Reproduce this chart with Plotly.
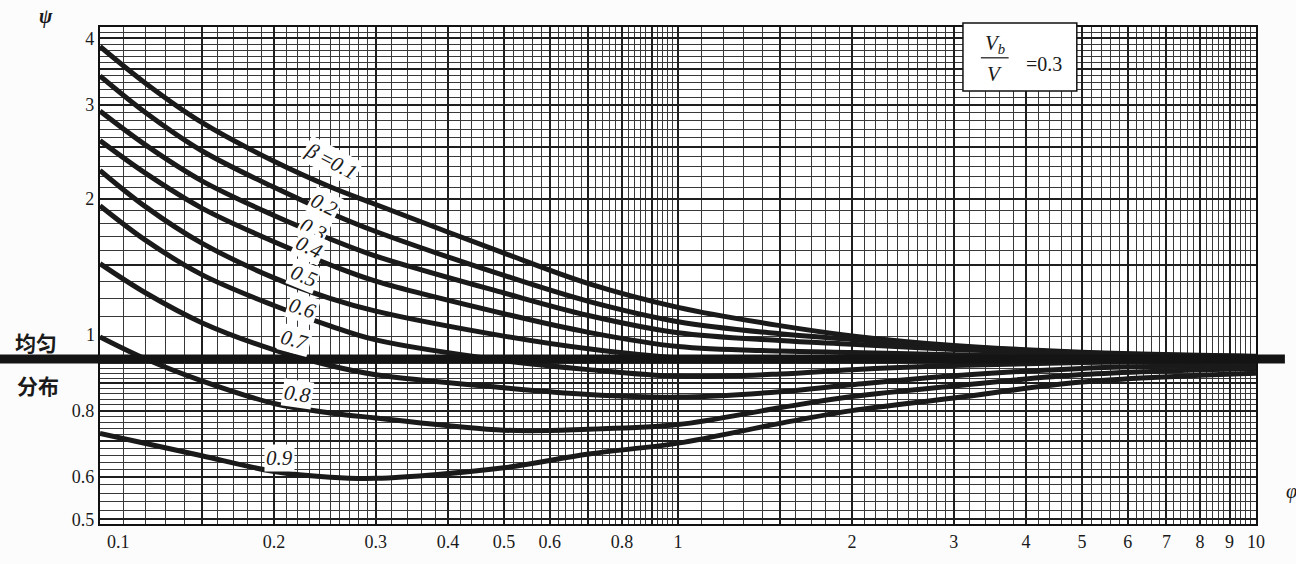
import numpy as np
import plotly.graph_objects as go

# ---------------- data ----------------
phi = [0.1, 0.12, 0.15, 0.2, 0.25, 0.3, 0.5, 0.7, 1.0, 1.5, 2.0, 3.0, 5.0, 10.0]

beta_values = [0.1, 0.2, 0.3, 0.4, 0.5, 0.6, 0.7, 0.8, 0.9]

psi_b01 = [3.86, 3.29, 2.78, 2.35, 2.105, 1.95, 1.58, 1.385, 1.25, 1.155, 1.105, 1.06, 1.03, 1.012]
psi_b02 = [3.40, 2.90, 2.46, 2.10, 1.88, 1.735, 1.435, 1.283, 1.175, 1.115, 1.088, 1.055, 1.027, 1.010]
psi_b03 = [2.92, 2.52, 2.16, 1.86, 1.68, 1.56, 1.33, 1.207, 1.12, 1.083, 1.066, 1.042, 1.022, 1.008]
psi_b04 = [2.57, 2.23, 1.92, 1.66, 1.503, 1.40, 1.216, 1.122, 1.055, 1.035, 1.028, 1.018, 1.010, 1.005]
psi_b05 = [2.26, 1.93, 1.65, 1.42, 1.30, 1.23, 1.104, 1.045, 1.005, 0.997, 0.996, 0.997, 0.999, 1.0]
psi_b06 = [1.94, 1.67, 1.44, 1.26, 1.154, 1.086, 0.993, 0.955, 0.928, 0.937, 0.955, 0.972, 0.985, 0.99]
psi_b07 = [1.51, 1.33, 1.17, 1.04, 0.972, 0.934, 0.883, 0.858, 0.848, 0.868, 0.895, 0.93, 0.96, 0.975]
psi_b08 = [1.10, 1.00, 0.91, 0.825, 0.792, 0.775, 0.735, 0.738, 0.753, 0.81, 0.85, 0.89, 0.935, 0.96]
psi_b09 = [0.725, 0.694, 0.658, 0.615, 0.600, 0.597, 0.625, 0.663, 0.695, 0.757, 0.80, 0.845, 0.905, 0.94]

curves = [psi_b01, psi_b02, psi_b03, psi_b04, psi_b05, psi_b06, psi_b07, psi_b08, psi_b09]

uniform_psi = 1.0
vb_over_v = 0.3

x_tick_vals = [0.1, 0.15, 0.2, 0.3, 0.4, 0.5, 0.6, 0.7, 0.8, 0.9, 1, 1.5, 2, 3, 4, 5, 6, 7, 8, 9, 10]
x_tick_text = ["", "", "0.2", "0.3", "0.4", "0.5", "0.6", "", "0.8", "", "1", "",
               "2", "3", "4", "5", "6", "7", "8", "9", "10"]
y_tick_vals = [0.5, 0.6, 0.7, 0.8, 0.9, 1.0, 1.5, 2, 2.5, 3, 3.5, 4]
y_tick_text = ["0.5", "0.6", "", "0.8", "", "", "", "2", "", "3", "", "4"]

# ---------------- styling / layout ----------------
SERIF = "Liberation Serif, Times New Roman, DejaVu Serif, serif"
CJK = "Noto Sans CJK SC"
INK = "#1a1a1a"
X_RANGE = [np.log10(0.1), np.log10(10)]
Y_RANGE = [np.log10(0.49), np.log10(4.2)]

# graph-paper minor grid
x_minor = np.concatenate([np.arange(0.11, 0.3, 0.01), np.arange(0.32, 1.0, 0.02),
                          np.arange(1.1, 3.0, 0.1), np.arange(3.2, 10.0, 0.2)])
y_minor = np.concatenate([np.arange(0.50, 1.0, 0.02), np.arange(1.1, 4.25, 0.1)])
x_minor = [round(v, 3) for v in x_minor if round(v, 3) not in x_tick_vals]
y_minor = [round(v, 3) for v in y_minor if round(v, 3) not in y_tick_vals]

fig = go.Figure()

for vals in curves:
    fig.add_trace(go.Scatter(
        x=phi, y=vals, mode="lines",
        line=dict(color=INK, width=5, shape="spline", smoothing=1.0),
        showlegend=False, hoverinfo="skip"))

axis_common = dict(
    type="log", showline=True, linecolor="#111", linewidth=2.2, mirror=True,
    ticks="", showgrid=True, gridcolor="#1e1e1e", gridwidth=2.0, zeroline=False,
    tickfont=dict(family=SERIF, size=18, color=INK),
)

fig.update_xaxes(
    range=X_RANGE, tickmode="array", tickvals=x_tick_vals, ticktext=x_tick_text,
    minor=dict(tickmode="array", tickvals=x_minor, showgrid=True,
               gridcolor="#383838", gridwidth=1.2, ticks=""),
    **axis_common)
fig.update_yaxes(
    range=Y_RANGE, tickmode="array", tickvals=y_tick_vals, ticktext=y_tick_text,
    minor=dict(tickmode="array", tickvals=y_minor, showgrid=True,
               gridcolor="#383838", gridwidth=1.2, ticks=""),
    **axis_common)

# paper y of the uniform-distribution line
y_uni = (np.log10(uniform_psi) - Y_RANGE[0]) / (Y_RANGE[1] - Y_RANGE[0])

shapes = [
    dict(type="line", xref="paper", yref="paper", x0=-0.0865, x1=1.025,
         y0=y_uni, y1=y_uni, line=dict(color="#141414", width=9), layer="above"),
    dict(type="rect", xref="paper", yref="paper", x0=0.7465, x1=0.845,
         y0=0.871, y1=1.008, fillcolor="white", line=dict(color="#111", width=1.5),
         layer="above"),
    dict(type="line", xref="paper", yref="paper", x0=0.762, x1=0.786,
         y0=0.938, y1=0.938, line=dict(color="#111", width=1.2), layer="above"),
]

annotations = []


def note(x, y, text, size=18, xref="paper", yref="paper", family=SERIF, **kw):
    d = dict(x=x, y=y, xref=xref, yref=yref, text=text, showarrow=False,
             xanchor="center", yanchor="middle",
             font=dict(family=family, size=size, color=INK))
    d.update(kw)
    annotations.append(d)


# curve labels (positions in log10 units, angles follow the curves)
label_pos = [(-0.600, 0.372, 28), (-0.611, 0.2896, 27), (-0.6315, 0.2434, 27),
             (-0.638, 0.210, 25), (-0.647, 0.1566, 22), (-0.6505, 0.0954, 18),
             (-0.6626, 0.0362, 15), (-0.659, -0.066, 8), (-0.6886, -0.186, 0)]
for b, (lx, ly, ang) in zip(beta_values, label_pos):
    txt = f"<i>β</i> =<i>{b}</i>" if b == beta_values[0] else f"<i>{b}</i>"
    note(lx, ly, txt, size=21, xref="x", yref="y", textangle=ang,
         bgcolor="white", borderpad=1)

# "1" tick label lifted above the thick line
note(0, 0, "1", size=18, yref="y", xanchor="right", xshift=-3, yshift=24)
# "0.1" x tick label, shifted right as in the original
note(-1, 0, "0.1", size=18, xref="x", yanchor="top", xshift=18, yshift=-6)
# axis symbols
note(-0.0467, 1.022, "<b><i>ψ</i></b>", size=20)
note(1.031, 0.066, "<i>φ</i>", size=20)
# uniform distribution text
note(-0.0554, 0.366, "<b>均匀</b>", size=21, family=CJK)
note(-0.0536, 0.280, "<b>分布</b>", size=21, family=CJK)
# Vb / V = 0.3 box
note(0.7745, 0.966, "<i>V<sub>b</sub></i>", size=21)
note(0.7735, 0.905, "<i>V</i>", size=21)
note(0.8165, 0.926, f"={vb_over_v}", size=20)

fig.update_layout(
    width=1296, height=564,
    margin=dict(l=100, r=40, t=27, b=34),
    paper_bgcolor="#fcfcfc", plot_bgcolor="white",
    shapes=shapes, annotations=annotations, showlegend=False,
)

fig.write_html("out.html")
